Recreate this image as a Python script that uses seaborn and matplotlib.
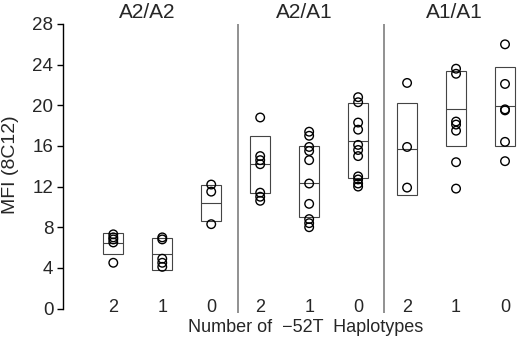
import numpy as np
import pandas as pd
import matplotlib
matplotlib.use("Agg")
import matplotlib.pyplot as plt
import seaborn as sns

# ---- data ----
genotypes = ["A2/A2", "A2/A1", "A1/A1"]
haplo_labels = ["2", "1", "0", "2", "1", "0", "2", "1", "0"]

g1_h2 = [7.3, 7.0, 6.8, 6.5, 4.5]
g1_h1 = [7.0, 6.8, 4.9, 4.5, 4.1]
g1_h0 = [12.2, 11.5, 8.3]
g2_h2 = [18.8, 15.0, 14.6, 14.2, 11.4, 11.0, 10.6]
g2_h1 = [17.4, 17.0, 15.9, 15.5, 14.6, 12.3, 10.3, 8.8, 8.4, 8.0]
g2_h0 = [20.8, 20.3, 18.3, 17.6, 16.1, 15.6, 15.0, 13.0, 12.7, 12.3, 12.0]
g3_h2 = [22.2, 15.9, 11.9]
g3_h1 = [23.6, 23.1, 18.4, 18.1, 17.5, 14.4, 11.8]
g3_h0 = [26.0, 22.1, 19.6, 19.5, 16.4, 14.5]

box_low = [5.4, 3.75, 8.6, 11.4, 9.0, 12.8, 11.2, 16.0, 16.0]
box_high = [7.45, 6.95, 12.2, 17.0, 15.95, 20.2, 20.2, 23.35, 23.8]
box_mid = [6.4, 5.35, 10.4, 14.2, 12.4, 16.5, 15.7, 19.65, 19.9]

groups = [g1_h2, g1_h1, g1_h0, g2_h2, g2_h1, g2_h0, g3_h2, g3_h1, g3_h0]
rows = []
for i, vals in enumerate(groups):
    for v in vals:
        rows.append({"pos": i, "mfi": v})
df = pd.DataFrame(rows)

# ---- figure ----
sns.set_style("white")
plt.rcParams["font.family"] = ["Liberation Sans", "DejaVu Sans"]

W, H = 520, 339
fig = plt.figure(figsize=(W / 100, H / 100), dpi=100)
ax_left, ax_right = 63 / W, 1.0
ax_bottom, ax_top = 1 - 308.5 / H, 1 - 24 / H
ax = fig.add_axes([ax_left, ax_bottom, ax_right - ax_left, ax_top - ax_bottom])

positions = np.arange(len(groups))
box_w = 0.41

# boxes
ax.bar(positions, np.array(box_high) - np.array(box_low), bottom=box_low,
       width=box_w, fill=False, edgecolor="#444444", linewidth=0.8, zorder=2)
ax.hlines(box_mid, positions - box_w / 2, positions + box_w / 2,
          color="#444444", linewidth=0.8, zorder=2)

# points
sns.scatterplot(data=df, x="pos", y="mfi", ax=ax, marker="o", s=38,
                facecolor="none", edgecolor="black", linewidth=1.0,
                legend=False, zorder=3)

# separators
ax.vlines([2.55, 5.53], -0.45, 28, color="#888888", linewidth=1.3,
          clip_on=False, zorder=1)

ax.set_xlim(-1.027, 8.306)
ax.set_ylim(0, 28)
ax.set_yticks(np.arange(0, 29, 4))
ax.set_xticks(positions)
ax.set_xticklabels(haplo_labels)
ax.tick_params(axis="x", length=0, pad=-7, labelsize=13)
ax.tick_params(axis="y", length=4, width=1, pad=3, labelsize=13.5,
               direction="out", left=True, color="black")
ax.set_xlabel("")
ax.set_ylabel("")
for s in ["top", "right", "bottom"]:
    ax.spines[s].set_visible(False)
ax.spines["left"].set_bounds(0, 28)
ax.spines["left"].set_color("black")
ax.spines["left"].set_linewidth(1.0)

# genotype labels
for gx, name in zip([0.69, 3.905, 6.96], genotypes):
    ax.text(gx, 29.15, name, ha="center", va="center", fontsize=15,
            clip_on=False)

fig.text(306 / W, 1 - 328 / H, "Number of  \u221252T  Haplotypes",
         ha="center", va="center", fontsize=13)
fig.text(11 / W, 1 - 165 / H, "MFI (8C12)", rotation=90,
         ha="center", va="center", fontsize=14)

fig.savefig("out.png", dpi=100, facecolor="white")
